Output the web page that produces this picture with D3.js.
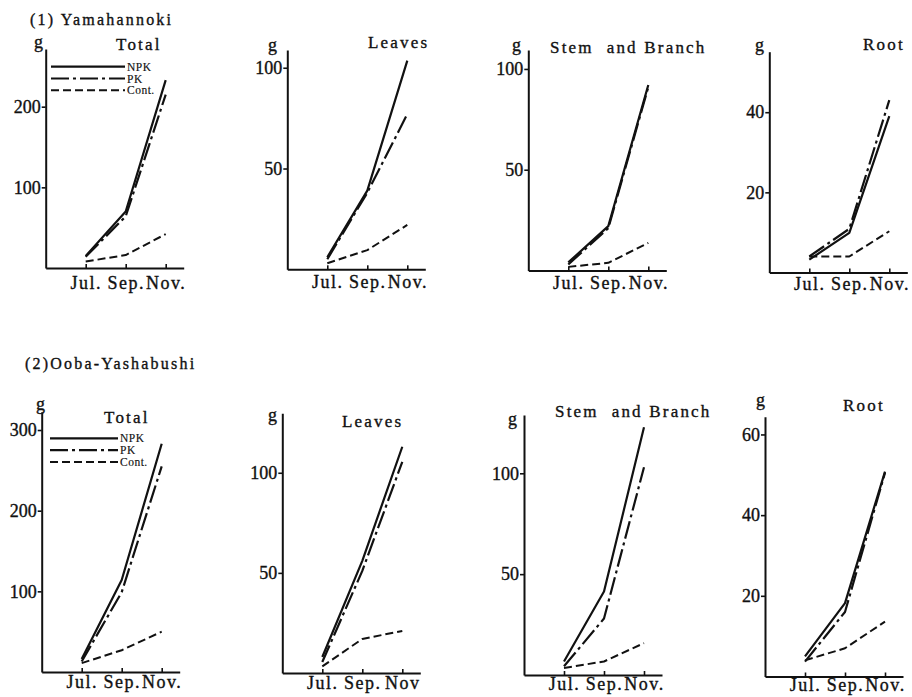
<!DOCTYPE html>
<html>
<head>
<meta charset="utf-8">
<script src="https://cdn.jsdelivr.net/npm/d3@7"></script>
<style>
  html, body { margin: 0; padding: 0; background: #fff; }
  svg text { font-family: "Liberation Serif", "DejaVu Serif", serif; fill: #111; stroke: #111; stroke-width: 0.35px; }
  .tick text { font-size: 18px; }
  .xaxis .tick text { letter-spacing: 1.5px; }
  .domain { stroke: #111; stroke-width: 2; }
  .tick line { stroke: #111; stroke-width: 1.6; }
</style>
</head>
<body>
<svg id="chart" width="912" height="697"></svg>
<script>
// ---------- data ----------
const months = [7, 9, 11];
const monthLabels = ["Jul.", "Sep.", "Nov."];
const monthLabelsNoDot = ["Jul.", "Sep.", "Nov"];
const seriesNames = ["NPK", "PK", "Cont."];
const groupTitles = ["(1) Yamahannoki", "(2)Ooba-Yashabushi"];
const panelTitles = ["Total", "Leaves", "Stem  and Branch", "Root"];

// values in g, order: NPK, PK, Cont.
const yamaTotal  = [[15, 70, 233], [14, 64, 215], [8, 16, 42]];
const yamaLeaves = [[6, 39, 103.5], [5, 38, 77], [3, 9.5, 22]];
const yamaStem   = [[4, 22, 92], [3, 21, 91], [1.8, 3.8, 13.7]];
const yamaRoot   = [[3.2, 9.9, 39], [4, 10.9, 43], [4, 4, 10.3]];
const oobaTotal  = [[16, 114, 283], [13, 99, 255], [11, 27, 50]];
const oobaLeaves = [[8, 56, 113], [5.5, 51, 105.5], [3.3, 17, 21]];
const oobaStem   = [[6.7, 41.4, 122.8], [4.3, 28, 103], [3.5, 6.7, 15.8]];
const oobaRoot   = [[5, 18.2, 50.8], [3.7, 16, 50.5], [4, 7, 13.6]];

const ticksTotalYama = [100, 200];
const ticksTotalOoba = [100, 200, 300];
const ticks50 = [50, 100];
const ticksRootYama = [20, 40];
const ticksRootOoba = [20, 40, 60];

// ---------- layout ----------
const panels = [
  {data: yamaTotal,  title: panelTitles[0], ticks: ticksTotalYama, yTop: 271.5, ax: 45.7, base: 268,   top: 49,    tx: 116, ty: 50,  gx: 34,  gy: 48,  pad: 8, labels: monthLabels, legend: {x0: 51, x1: 125, y: 66.7}},
  {data: yamaLeaves, title: panelTitles[1], ticks: ticks50,        yTop: 108.8, ax: 287.3, base: 269.3, top: 50, tx: 368, ty: 48,  gx: 268, gy: 51,  pad: 6, labels: monthLabels},
  {data: yamaStem,   title: panelTitles[2], ticks: ticks50,        yTop: 109.4, ax: 528.3, base: 270.5, top: 50, tx: 550, ty: 53,  gx: 512, gy: 51,  pad: 6, labels: monthLabels},
  {data: yamaRoot,   title: panelTitles[3], ticks: ticksRootYama,  yTop: 55.1,  ax: 769.3, base: 272.5, top: 51.7, tx: 863, ty: 50, gx: 755, gy: 51,  pad: 5, labels: monthLabels},
  {data: oobaTotal,  title: panelTitles[0], ticks: ticksTotalOoba, yTop: 322.7, ax: 41.7, base: 672,   top: 411.7, tx: 104, ty: 423, gx: 36, gy: 410, pad: 3, labels: monthLabels, legend: {x0: 50, x1: 118, y: 438.3}},
  {data: oobaLeaves, title: panelTitles[1], ticks: ticks50,        yTop: 129.7, ax: 282.3, base: 673,   top: 413.3, tx: 342, ty: 427, gx: 268, gy: 421, pad: 3, labels: monthLabelsNoDot},
  {data: oobaStem,   title: panelTitles[2], ticks: ticks50,        yTop: 128.9, ax: 524,   base: 675,   top: 415, tx: 555, ty: 417, gx: 508, gy: 425, pad: 2.5, labels: monthLabels},
  {data: oobaRoot,   title: panelTitles[3], ticks: ticksRootOoba,  yTop: 64.4,  ax: 765,   base: 676.5, top: 416.7, tx: 843, ty: 411, gx: 756, gy: 406, pad: 2, labels: monthLabels}
];
const groupPos = [{x: 30, y: 25}, {x: 25, y: 369}];
const styles = [
  {dash: null, w: 2.2},
  {dash: "18,4,3,4", w: 2.2},
  {dash: "8,4", w: 2}
];

const svg = d3.select("#chart");

groupTitles.forEach((t, i) => {
  svg.append("text").attr("x", groupPos[i].x).attr("y", groupPos[i].y)
    .attr("font-size", 16).attr("letter-spacing", "2.2px").text(t);
});

panels.forEach(p => {
  const x = d3.scaleLinear().domain([5, 11.9]).range([p.ax, p.ax + 138]);
  const y = d3.scaleLinear().domain([0, p.yTop]).range([p.base, p.top]);
  const g = svg.append("g");

  g.append("g").attr("class", "yaxis")
    .attr("transform", "translate(" + p.ax + ",0)")
    .call(d3.axisLeft(y).tickValues(p.ticks).tickSizeInner(4).tickSizeOuter(0).tickPadding(1).tickFormat(d3.format("d")))
    .attr("font-family", null).attr("font-size", null);

  g.append("g").attr("class", "xaxis")
    .attr("transform", "translate(0," + p.base + ")")
    .call(d3.axisBottom(x).tickValues(months).tickSizeInner(-4).tickSizeOuter(0).tickPadding(p.pad)
      .tickFormat((d, i) => p.labels[i]))
    .attr("font-family", null).attr("font-size", null);

  const line = d3.line().x((d, i) => x(months[i])).y(d => y(d));
  p.data.forEach((vals, si) => {
    g.append("path").attr("d", line(vals))
      .attr("fill", "none").attr("stroke", "#111")
      .attr("stroke-width", styles[si].w)
      .attr("stroke-dasharray", styles[si].dash)
      .attr("stroke-linejoin", "round");
  });

  g.append("text").attr("x", p.tx).attr("y", p.ty).attr("font-size", 17)
    .attr("letter-spacing", "2.2px").style("white-space", "pre").text(p.title);
  g.append("text").attr("x", p.gx).attr("y", p.gy).attr("font-size", 18).text("g");

  if (p.legend) {
    seriesNames.forEach((s, si) => {
      const ly = p.legend.y + si * 11.8;
      g.append("line").attr("x1", p.legend.x0).attr("x2", p.legend.x1)
        .attr("y1", ly).attr("y2", ly)
        .attr("stroke", "#111").attr("stroke-width", styles[si].w)
        .attr("stroke-dasharray", styles[si].dash);
      g.append("text").attr("x", p.legend.x1 + 2).attr("y", ly + 4)
        .attr("font-size", 11.5).attr("letter-spacing", "0.5px").style("stroke-width", "0.15px").text(s);
    });
  }
});
</script>
</body>
</html>
